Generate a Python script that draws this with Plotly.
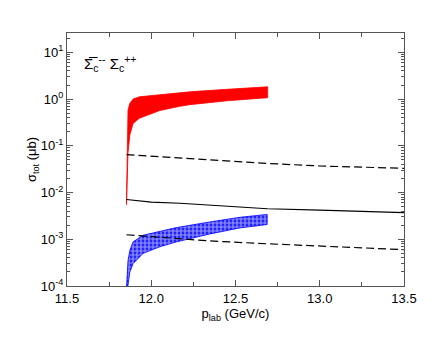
import plotly.graph_objects as go

# ---- data ----
red_p = [11.853, 11.856, 11.859, 11.862, 11.873, 11.892, 11.93, 11.99, 12.051, 12.17, 12.229, 12.45, 12.691]
red_hi = [0.0055, 0.10, 0.35, 0.58, 0.81, 1.0, 1.12, 1.18, 1.24, 1.36, 1.43, 1.62, 1.83]
red_lo = [0.0055, 0.01, 0.03, 0.07, 0.17, 0.30, 0.39, 0.47, 0.57, 0.70, 0.76, 0.92, 1.07]

blue_p = [11.853, 11.858, 11.862, 11.873, 11.892, 11.952, 12.051, 12.150, 12.348, 12.526, 12.688]
blue_hi = [9e-5, 2.5e-4, 3.5e-4, 5.8e-4, 8.8e-4, 1.22e-3, 1.5e-3, 1.78e-3, 2.35e-3, 2.95e-3, 3.4e-3]
blue_lo = [6e-5, 8e-5, 1.2e-4, 2.0e-4, 3.0e-4, 5.0e-4, 6.9e-4, 8.8e-4, 1.3e-3, 1.75e-3, 2.07e-3]

solid_p = [11.853, 12.0, 12.17, 12.35, 12.5, 12.69, 13.0, 13.5]
solid_s = [7.1e-3, 6.25e-3, 5.9e-3, 5.4e-3, 4.9e-3, 4.5e-3, 4.2e-3, 3.7e-3]

dashU_p = [11.853, 12.0, 12.29, 12.69, 13.0, 13.5]
dashU_s = [0.065, 0.060, 0.0515, 0.042, 0.037, 0.033]

dashL_p = [11.853, 12.0, 12.17, 12.35, 12.69, 13.0, 13.5]
dashL_s = [1.25e-3, 1.14e-3, 1.02e-3, 9.2e-4, 8.0e-4, 7.1e-4, 6.0e-4]

x_ticks = [11.5, 12.0, 12.5, 13.0, 13.5]
x_ticktext = ["11.5", "12.0", "12.5", "13.0", "13.5"]
y_ticks = [1e-4, 1e-3, 1e-2, 1e-1, 1e0, 1e1]
y_ticktext = ["10<sup>-4</sup>", "10<sup>-3</sup>", "10<sup>-2</sup>", "10<sup>-1</sup>", "10<sup>0</sup>", "10<sup>1</sup>"]

fig = go.Figure()

# red band
fig.add_trace(go.Scatter(
    x=red_p + red_p[::-1], y=red_hi + red_lo[::-1],
    fill="toself", fillcolor="#ff0000", mode="lines",
    line=dict(color="#ff0000", width=0.8), showlegend=False, hoverinfo="skip"))

# blue checkered band
fig.add_trace(go.Scatter(
    x=blue_p + blue_p[::-1], y=blue_hi + blue_lo[::-1],
    fill="toself", fillcolor="#0000ff", mode="lines",
    fillpattern=dict(shape=".", fgcolor="#ffffff", bgcolor="#0000ff", size=4, solidity=0.7),
    line=dict(color="#0000ff", width=0.8), showlegend=False, hoverinfo="skip"))

fig.add_trace(go.Scatter(x=solid_p, y=solid_s, mode="lines",
                         line=dict(color="black", width=1.2), showlegend=False))
fig.add_trace(go.Scatter(x=dashU_p, y=dashU_s, mode="lines",
                         line=dict(color="black", width=1.2, dash="8px,4px"), showlegend=False))
fig.add_trace(go.Scatter(x=dashL_p, y=dashL_s, mode="lines",
                         line=dict(color="black", width=1.2, dash="8px,4px"), showlegend=False))

minor_y = [k * 10.0 ** e for e in range(-4, 2) for k in range(2, 10)]

fig.update_layout(
    width=428, height=329,
    margin=dict(l=59, r=32, t=25, b=51),
    paper_bgcolor="white", plot_bgcolor="white",
    font=dict(family="Liberation Sans, Arial, sans-serif", size=13, color="black"),
    xaxis=dict(
        range=[11.5, 13.5], tickvals=x_ticks, ticktext=x_ticktext,
        ticks="inside", ticklen=6, tickcolor="#555", showgrid=False, zeroline=False,
        showline=True, linecolor="#555", linewidth=1, mirror="allticks",
        minor=dict(ticks="inside", ticklen=4, tickcolor="#555", dtick=0.25, showgrid=False),
        title=dict(text="p<sub>lab</sub> (GeV/c)", standoff=4, font=dict(size=13)),
        tickfont=dict(size=13), automargin=False,
    ),
    yaxis=dict(
        type="log", range=[-4, 1.414], tickvals=y_ticks, ticktext=y_ticktext,
        ticks="inside", ticklen=6, tickcolor="#555", showgrid=False, zeroline=False,
        showline=True, linecolor="#555", linewidth=1, mirror="allticks",
        minor=dict(ticks="inside", ticklen=3, tickcolor="#555", tickvals=minor_y, showgrid=False),
        title=dict(text="σ<sub>tot</sub> (μb)", standoff=0, font=dict(size=13)),
        tickfont=dict(size=13), automargin=False,
    ),
    annotations=[dict(
        x=0.045, y=0.93, xref="paper", yref="paper", xanchor="left", yanchor="top",
        text="Σ\u0305<sub>c</sub><sup>--</sup> Σ<sub>c</sub><sup>++</sup>",
        showarrow=False, font=dict(size=15))],
)

fig.write_html("out.html")
